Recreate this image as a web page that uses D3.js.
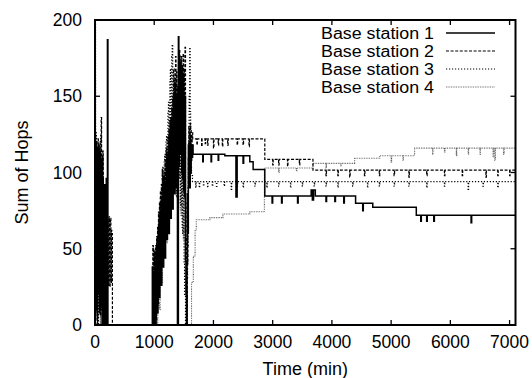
<!DOCTYPE html>
<html>
<head>
<meta charset="utf-8">
<script src="https://cdn.jsdelivr.net/npm/d3@7"></script>
<style>
  body { margin: 0; background: #fff; }
  svg { display: block; }
  text { font-family: "Liberation Sans", Arial, Helvetica, sans-serif; fill: #000; }
</style>
</head>
<body>
<svg id="chart" width="532" height="378"></svg>
<script>
// axis ticks
const xTicks = [0, 1000, 2000, 3000, 4000, 5000, 6000, 7000];
const yTicks = [0, 50, 100, 150, 200];
const seriesNames = ['Base station 1', 'Base station 2', 'Base station 3', 'Base station 4'];

// [time (min), sum of hops]
const station1 = [
  [0,0],[4,124],[9,30],[14,118],[19,10],[24,120],[29,40],[34,112],[39,4],[44,116],[49,50],[54,110],
  [59,20],[64,118],[69,36],[74,106],[79,8],[84,114],[89,44],[94,102],[99,12],[104,108],[109,40],[114,98],
  [119,0],[124,110],[129,30],[134,96],[139,0],[146,62],[152,6],[160,92],[166,0],[174,80],[182,4],[190,96],
  [198,0],[210,187],[218,0],
  [960,0],[968,38],[976,4],[984,34],[992,0],[1000,32],[1008,6],[1016,40],[1024,0],[1032,46],[1040,10],
  [1048,52],[1056,8],[1064,58],[1072,20],[1080,66],[1088,18],[1096,72],[1104,30],[1112,80],[1120,26],
  [1128,84],[1136,40],[1144,90],[1152,38],[1160,97],[1168,48],[1176,92],[1184,44],[1192,90],[1200,60],
  [1208,102],[1216,56],[1224,108],[1232,66],[1240,112],[1248,60],[1256,118],[1264,74],[1272,122],[1280,70],
  [1288,128],[1296,80],[1304,130],[1312,76],[1320,134],[1328,90],[1336,148],[1344,86],[1352,158],[1360,96],
  [1368,150],[1376,90],[1384,150],[1392,0],[1400,0],[1408,189],[1416,104],[1424,176],[1432,112],[1440,172],
  [1448,118],[1456,168],[1464,100],[1472,160],[1480,96],[1488,164],[1496,88],[1504,150],[1512,84],
  [1520,150],[1528,42],[1536,20],[1544,0],[1552,40],[1560,86],[1568,60],[1576,118],[1584,96],[1592,104],
  [1600,90],[1608,124],[1616,100],[1624,108],[1632,118],[1640,110],[1648,118],[1656,112],
  [1820,107],[1828,112],[1960,107],[1968,112],[2080,108],[2088,112],[2192,111],[2380,84],[2400,111],
  [2500,106],[2510,111],[2614,107],[2670,102],[2867,84.6],[2990,80],[3000,84.6],[3150,80],[3160,84.6],
  [3420,80],[3430,84.6],[3650,88.5],[3670,82],[3690,88.5],[3720,84.6],[3900,81],[3910,84.6],[4050,81],
  [4060,84.6],[4200,80],[4210,84.6],[4400,79.8],[4520,75],[4530,79.8],[4690,77.2],[5425,72],[5500,68],
  [5510,72],[5600,68],[5610,72],[5720,68],[5730,72],[6350,67],[6360,72],[7100,72]
];
const station2 = [
  [0,0],[8,92],[13,20],[18,100],[23,12],[28,104],[33,30],[38,0],[44,110],[50,122],[56,40],[62,22],
  [68,100],[76,96],[82,10],[90,6],[97,120],[104,136],[111,50],[118,30],[125,104],[132,114],[139,40],
  [146,16],[153,90],[160,82],[167,20],[174,0],[181,70],[188,62],[194,20],[200,14],[207,66],[214,70],
  [220,30],[226,26],[232,68],[238,71],[244,30],[250,25],[256,68],[262,70],[268,30],[274,28],[279,62],
  [284,60],[294,0],
  [968,0],[976,52],[984,10],[992,50],[1000,8],[1008,48],[1016,14],[1024,52],[1032,4],[1040,58],[1048,20],
  [1056,64],[1064,14],[1072,74],[1080,30],[1088,80],[1096,28],[1104,88],[1112,40],[1120,92],[1128,44],
  [1136,102],[1144,52],[1152,98],[1160,56],[1168,100],[1176,62],[1184,108],[1192,66],[1200,116],[1208,70],
  [1216,112],[1224,68],[1232,124],[1240,80],[1248,128],[1256,74],[1264,134],[1272,90],[1280,136],[1288,88],
  [1296,142],[1304,100],[1312,150],[1320,98],[1328,168],[1336,110],[1344,160],[1352,118],[1360,176],
  [1368,120],[1376,166],[1384,124],[1392,156],[1400,118],[1408,170],[1416,112],[1424,180],[1432,128],
  [1440,172],[1448,120],[1456,176],[1464,116],[1472,170],[1480,110],[1488,178],[1496,104],[1504,168],
  [1512,96],[1520,182],[1528,80],[1536,58],[1544,20],[1552,0],[1560,40],[1568,82],[1576,110],[1584,130],
  [1592,100],[1600,108],[1608,132],[1616,128],[1624,112],[1632,118],[1640,126],[1650,122],
  [1720,118],[1728,122],[1800,117],[1808,122],[1860,119],[1868,122],[1900,118],[1908,122],[2000,116],
  [2008,122],[2080,118],[2088,122],[2150,117],[2158,122],[2240,118],[2248,122],[2400,118],[2408,122],
  [2500,118],[2508,122],[2600,117],[2608,122],[2867,108.6],[3000,105],[3008,108.6],[3100,105],[3108,108.6],
  [3250,104],[3258,108.6],[3450,105],[3458,108.6],[3680,101.5],[3900,98],[3908,101.5],[4100,98],
  [4108,101.5],[4300,97],[4308,101.5],[4550,98],[4558,101.5],[4800,98],[4808,101.5],[5050,98],[5058,101.5],
  [5300,97],[5308,101.5],[5600,98],[5608,101.5],[5900,98],[5908,101.5],[6200,98],[6208,101.5],[6600,97],
  [6608,101.5],[6800,98],[6808,101.5],[7000,98],[7008,101.5],[7100,101.5]
];
const station3 = [
  [0,0],[3,198],[9,30],[14,110],[19,126],[24,40],[29,8],[35,100],[41,106],[47,20],[53,0],[60,108],
  [66,116],[73,30],[80,20],[87,118],[94,124],[101,40],[108,10],[115,96],[122,92],[129,14],[136,0],
  [143,70],[150,72],[157,12],[164,8],[171,46],[178,42],[185,6],[192,0],
  [1000,0],[1008,36],[1016,40],[1024,10],[1032,6],[1040,50],[1048,54],[1056,20],[1064,18],[1072,66],
  [1080,70],[1088,34],[1096,30],[1104,84],[1112,88],[1120,46],[1128,44],[1136,100],[1144,104],[1152,60],
  [1160,58],[1168,108],[1176,112],[1184,70],[1192,66],[1200,120],[1208,124],[1216,80],[1224,78],[1232,140],
  [1240,146],[1248,96],[1256,92],[1264,160],[1272,168],[1280,106],[1288,104],[1296,176],[1304,184],
  [1312,120],[1320,116],[1328,158],[1336,162],[1344,104],[1352,100],[1360,144],[1368,140],[1376,88],
  [1384,84],[1392,126],[1400,130],[1408,100],[1416,96],[1424,150],[1432,154],[1440,80],[1448,78],
  [1456,132],[1464,136],[1472,64],[1480,60],[1488,116],[1496,120],[1504,40],[1512,20],[1528,0],[1548,0],
  [1556,30],[1564,52],[1572,90],[1580,120],[1590,150],[1598,182],[1606,140],[1614,120],[1622,104],
  [1630,98],[1646,94],
  [1700,90],[1708,94],[1760,90],[1768,94],[1830,91],[1838,94],[1900,90],[1908,94],[1980,91],[1988,94],
  [2050,90],[2058,94],[2180,91],[2188,94],[2300,89],[2308,94],[2400,91],[2408,94],[2500,90],[2508,94],
  [2700,91],[2708,94],[2900,90],[2908,94],[3100,91],[3108,94],[3300,90],[3308,94],[3500,91],[3508,94],
  [3700,91],[3708,94],[3900,91],[3908,94],[4100,90],[4108,94],[4350,91],[4358,94],[4600,90],[4608,94],
  [4800,91],[4808,94],[5050,91],[5058,94],[5300,91],[5308,94],[5600,90],[5608,94],[5900,91],[5908,94],
  [6300,89],[6308,94],[6550,91],[6558,94],[6800,90],[6808,94],[7100,94]
];
const station4 = [
  [0,0],[6,162],[10,40],[14,14],[19,110],[24,116],[30,20],[36,0],[42,90],[48,96],[55,30],[62,10],
  [69,114],[76,120],[83,20],[90,0],[97,80],[104,86],[111,30],[118,14],[125,96],[132,100],[139,10],
  [146,0],[153,48],[160,52],[166,10],[172,0],
  [1010,0],[1020,22],[1030,26],[1040,4],[1050,0],[1060,40],[1070,44],[1080,14],[1090,10],[1100,62],
  [1110,68],[1120,32],[1130,28],[1140,88],[1150,92],[1160,52],[1170,48],[1180,102],[1190,108],[1200,58],
  [1210,54],[1220,112],[1230,118],[1240,70],[1250,66],[1260,130],[1270,136],[1280,84],[1290,80],
  [1300,144],[1310,150],[1320,100],[1330,96],[1340,134],[1350,138],[1360,88],[1370,84],[1380,150],
  [1390,156],[1400,104],[1410,100],[1420,128],[1430,132],[1440,76],[1450,72],[1460,108],[1470,112],
  [1480,60],[1490,56],[1500,92],[1510,96],[1520,30],[1530,24],[1550,0],[1610,0],[1630,28],
  [1660,45],[1690,62],[1710,69],[1940,70.4],[2160,72.8],[2614,74.3],[2860,103],[3100,100],[3108,103],
  [3400,101],[3408,103],[3680,106],[3900,103],[3908,106],[4150,104],[4158,106],[4384,109.3],[4806,111],
  [5000,107],[5008,111],[5200,108],[5208,111],[5396,116],[5700,112],[5708,116],[5900,113],[5908,116],
  [6100,111],[6108,116],[6300,112],[6308,116],[6500,112],[6508,116],[6720,110],[6730,116],[6750,108],
  [6760,116],[6900,112],[6908,116],[7100,116]
];

const svg = d3.select('#chart');
const margin = { top: 20, right: 16.5, bottom: 53, left: 95 };
const width = 532, height = 378;

const x = d3.scaleLinear().domain([0, 7100]).range([margin.left, width - margin.right]);
const y = d3.scaleLinear().domain([0, 200]).range([height - margin.bottom, margin.top]);

const seriesStyles = [
  { data: station1, dash: null, color: '#000', w: 1.5 },
  { data: station2, dash: '3,1.6', color: '#000', w: 1.2 },
  { data: station3, dash: '1.2,1.8', color: '#000', w: 1.2 },
  { data: station4, dash: '0.8,0.9', color: '#555', w: 1.1 }
];

svg.append('clipPath').attr('id', 'plotClip')
  .append('rect')
  .attr('x', x(0)).attr('y', y(200))
  .attr('width', x(7100) - x(0)).attr('height', y(0) - y(200));

const line = d3.line()
  .x(function(d) { return x(d[0]); })
  .y(function(d) { return y(d[1]); })
  .curve(d3.curveStepAfter);

const plot = svg.append('g').attr('clip-path', 'url(#plotClip)');
// draw station 4 first so the darker lines sit on top
[3, 2, 1, 0].forEach(function(i) {
  const s = seriesStyles[i];
  plot.append('path')
    .datum(s.data)
    .attr('fill', 'none')
    .attr('stroke', s.color)
    .attr('stroke-width', s.w)
    .attr('stroke-dasharray', s.dash)
    .attr('d', line);
});

// ticks, inward on all four sides
const tickLen = 5;
const ticks = svg.append('g').attr('stroke', '#000').attr('stroke-width', 1.3);
xTicks.forEach(function(t) {
  ticks.append('line').attr('x1', x(t)).attr('x2', x(t)).attr('y1', y(0)).attr('y2', y(0) - tickLen);
  ticks.append('line').attr('x1', x(t)).attr('x2', x(t)).attr('y1', y(200)).attr('y2', y(200) + tickLen);
});
yTicks.forEach(function(t) {
  ticks.append('line').attr('x1', x(0)).attr('x2', x(0) + tickLen).attr('y1', y(t)).attr('y2', y(t));
  ticks.append('line').attr('x1', x(7100)).attr('x2', x(7100) - tickLen).attr('y1', y(t)).attr('y2', y(t));
});

// frame
svg.append('rect')
  .attr('x', x(0)).attr('y', y(200))
  .attr('width', x(7100) - x(0)).attr('height', y(0) - y(200))
  .attr('fill', 'none').attr('stroke', '#000').attr('stroke-width', 2);

// tick labels
svg.append('g').selectAll('text').data(xTicks).enter().append('text')
  .attr('x', function(d) { return x(d); })
  .attr('y', y(0) + 23)
  .attr('text-anchor', 'middle')
  .style('font-size', '17.5px')
  .text(function(d) { return d; });

svg.append('g').selectAll('text').data(yTicks).enter().append('text')
  .attr('x', 82)
  .attr('y', function(d) { return y(d) + 6; })
  .attr('text-anchor', 'end')
  .style('font-size', '17.5px')
  .text(function(d) { return d; });

// axis titles
svg.append('text')
  .attr('x', (x(0) + x(7100)) / 2)
  .attr('y', 375)
  .attr('text-anchor', 'middle')
  .style('font-size', '18px')
  .text('Time (min)');

svg.append('text')
  .attr('transform', 'translate(28,' + ((y(0) + y(200)) / 2) + ') rotate(-90)')
  .attr('text-anchor', 'middle')
  .style('font-size', '18px')
  .text('Sum of Hops');

// legend: text stretched a little to match the wide lettering of the original
const legend = svg.append('g');
seriesNames.forEach(function(name, i) {
  const cy = 33 + i * 18;
  const s = seriesStyles[i];
  legend.append('text')
    .attr('x', 434).attr('y', cy + 5.5)
    .attr('text-anchor', 'end')
    .attr('textLength', 113)
    .attr('lengthAdjust', 'spacingAndGlyphs')
    .style('font-size', '16px')
    .text(name);
  legend.append('line')
    .attr('x1', 446).attr('x2', 495).attr('y1', cy).attr('y2', cy)
    .attr('stroke', s.color)
    .attr('stroke-width', s.w)
    .attr('stroke-dasharray', s.dash);
});
</script>
</body>
</html>
